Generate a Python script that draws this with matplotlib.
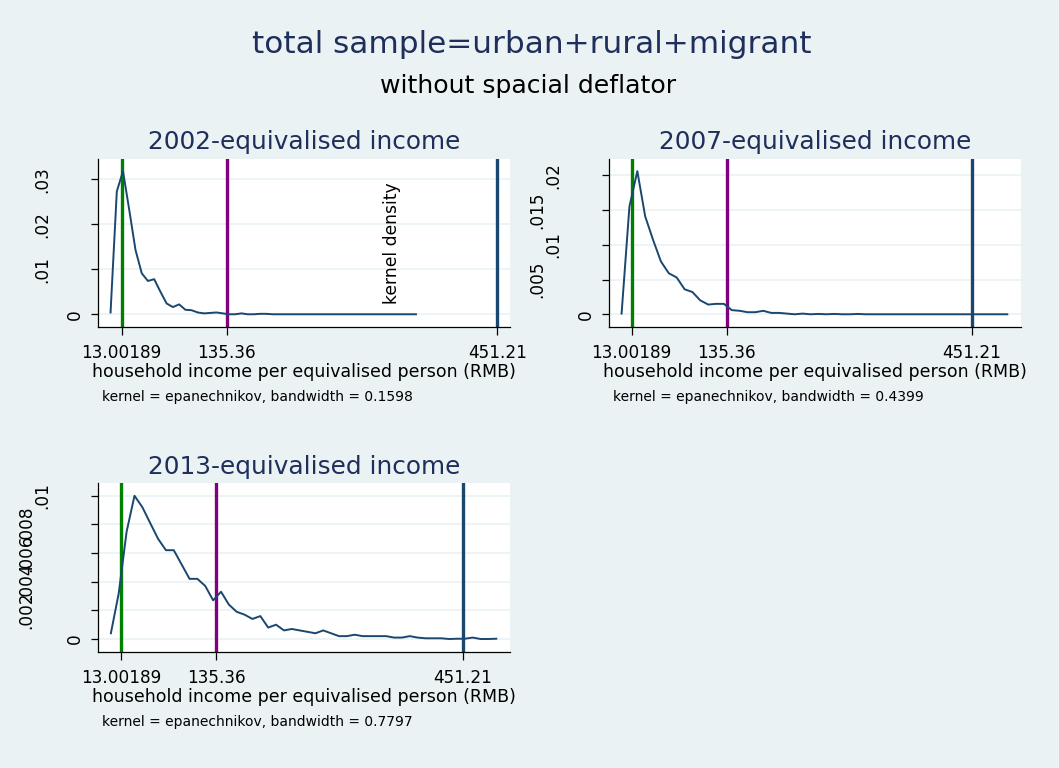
import matplotlib
matplotlib.use("Agg")
import matplotlib.pyplot as plt

plt.rcParams["font.family"] = ["DejaVu Sans"]

BG = "#eaf2f3"
NAVY = "#1a476f"
TITLE_NAVY = "#1f2f5c"

# x axis ticks and the three reference lines
x_ticks = [13.00189, 135.36, 451.21]
x_tick_labels = ["13.00189", "135.36", "451.21"]
ref_lines = [13.00189, 135.36, 451.21]
ref_colors = ["#008000", "#800080", NAVY]

panel_titles = ["2002-equivalised income", "2007-equivalised income", "2013-equivalised income"]
bandwidths = ["0.1598", "0.4399", "0.7797"]

# kernel density estimates (50 grid points each)
x_2002 = [0.0, 7.3, 14.5, 21.8, 29.1, 36.4, 43.6, 50.9, 58.2, 65.4,
          72.7, 80.0, 87.3, 94.5, 101.8, 109.1, 116.3, 123.6, 130.9, 138.2,
          145.4, 152.7, 160.0, 167.2, 174.5, 181.8, 189.1, 196.3, 203.6, 210.9,
          218.1, 225.4, 232.7, 240.0, 247.2, 254.5, 261.8, 269.0, 276.3, 283.6,
          290.9, 298.1, 305.4, 312.7, 319.9, 327.2, 334.5, 341.8, 349.0, 356.3]
dens_2002 = [0.0004, 0.0273, 0.0318, 0.0232, 0.0143, 0.0091, 0.0074, 0.0078, 0.0050, 0.0024,
             0.0016, 0.0022, 0.0010, 0.0009, 0.0004, 0.0002, 0.0003, 0.0004, 0.0002, 0.0000,
             0.0000, 0.0002, 0.0000, 0.0000, 0.0001, 0.0001, 0.0000, 0.0000, 0.0000, 0.0000,
             0.0000, 0.0000, 0.0000, 0.0000, 0.0000, 0.0000, 0.0000, 0.0000, 0.0000, 0.0000,
             0.0000, 0.0000, 0.0000, 0.0000, 0.0000, 0.0000, 0.0000, 0.0000, 0.0000, 0.0000]

x_2007 = [0.0, 10.1, 20.3, 30.4, 40.6, 50.7, 60.9, 71.0, 81.2, 91.3,
          101.4, 111.6, 121.7, 131.9, 142.0, 152.2, 162.3, 172.4, 182.6, 192.7,
          202.9, 213.0, 223.2, 233.3, 243.5, 253.6, 263.7, 273.9, 284.0, 294.2,
          304.3, 314.5, 324.6, 334.7, 344.9, 355.0, 365.2, 375.3, 385.5, 395.6,
          405.8, 415.9, 426.0, 436.2, 446.3, 456.5, 466.6, 476.8, 486.9, 497.0]
dens_2007 = [0.0001, 0.0155, 0.0206, 0.0141, 0.0107, 0.0076, 0.0059, 0.0053, 0.0036, 0.0032,
             0.0020, 0.0014, 0.0015, 0.0015, 0.0006, 0.0005, 0.0003, 0.0003, 0.0005, 0.0002,
             0.0002, 0.0001, 0.0000, 0.0001, 0.0000, 0.00005, 0.0000, 0.00005, 0.0000, 0.0000,
             0.00005, 0.0000, 0.0000, 0.0000, 0.0000, 0.0000, 0.0000, 0.0000, 0.0000, 0.0000,
             0.0000, 0.0000, 0.0000, 0.0000, 0.0000, 0.0000, 0.0000, 0.0000, 0.0000, 0.0000]

x_2013 = [0.0, 10.1, 20.2, 30.3, 40.4, 50.4, 60.5, 70.6, 80.7, 90.8,
          100.9, 111.0, 121.1, 131.2, 141.3, 151.4, 161.4, 171.5, 181.6, 191.7,
          201.8, 211.9, 222.0, 232.1, 242.2, 252.3, 262.4, 272.4, 282.5, 292.6,
          302.7, 312.8, 322.9, 333.0, 343.1, 353.2, 363.3, 373.4, 383.4, 393.5,
          403.6, 413.7, 423.8, 433.9, 444.0, 454.1, 464.2, 474.3, 484.3, 494.4]
dens_2013 = [0.0004, 0.0032, 0.0075, 0.0100, 0.0092, 0.0081, 0.0070, 0.0062, 0.0062, 0.0052,
             0.0042, 0.0042, 0.0037, 0.0027, 0.0033, 0.0024, 0.0019, 0.0017, 0.0014, 0.0016,
             0.0008, 0.0010, 0.0006, 0.0007, 0.0006, 0.0005, 0.0004, 0.0006, 0.0004, 0.0002,
             0.0002, 0.0003, 0.0002, 0.0002, 0.0002, 0.0002, 0.0001, 0.0001, 0.0002, 0.0001,
             0.00005, 0.00005, 0.00005, 0.0000, 0.00002, 0.00002, 0.0001, 0.0000, 0.0000, 0.00002]

y_ticks_2002 = [0, 0.01, 0.02, 0.03]
y_labels_2002 = ["0", ".01", ".02", ".03"]
y_ticks_2007 = [0, 0.005, 0.01, 0.015, 0.02]
y_labels_2007 = ["0", ".005", ".01", ".015", ".02"]
y_ticks_2013 = [0, 0.002, 0.004, 0.006, 0.008, 0.01]
y_labels_2013 = ["0", ".002", ".004", ".006", ".008", ".01"]

W, H = 1059, 768
fig = plt.figure(figsize=(W / 100, H / 100), dpi=100, facecolor=BG)


def box(left, top, right, bottom):
    return [left / W, 1 - bottom / H, (right - left) / W, (bottom - top) / H]


def draw_panel(rect, x, dens, yticks, ylabels, xlim, ylim, title, bw):
    ax = fig.add_axes(rect)
    ax.set_facecolor("white")
    ax.set_axisbelow(True)
    ax.grid(axis="y", color=BG, lw=1.2)
    for v, c in zip(ref_lines, ref_colors):
        ax.axvline(v, color=c, lw=2.4, zorder=2)
    ax.plot(x, dens, color=NAVY, lw=1.4, zorder=3)
    ax.set_xlim(*xlim)
    ax.set_ylim(*ylim)
    for s in ["top", "right"]:
        ax.spines[s].set_visible(False)
    for s in ["left", "bottom"]:
        ax.spines[s].set_linewidth(0.9)
    ax.set_xticks(x_ticks)
    ax.set_xticklabels(x_tick_labels, fontsize=12.2)
    ax.set_yticks(yticks)
    ax.tick_params(axis="y", labelleft=False, length=5.4, width=0.9)
    ax.tick_params(axis="x", length=5.4, width=0.9, pad=7.0)
    # vertical y labels, pushed out by string length (Stata style)
    for v, s in zip(yticks, ylabels):
        ax.annotate(s, xy=(0, v), xycoords=("axes fraction", "data"),
                    xytext=(-(7 + 16 * len(s)) * 0.72, 0), textcoords="offset points",
                    rotation=90, ha="center", va="center", fontsize=12.2)
    ax.annotate("household income per equivalised person (RMB)", xy=(0.5, 0),
                xycoords="axes fraction", xytext=(0, -50 * 0.72), textcoords="offset points",
                ha="center", va="baseline", fontsize=12.5)
    ax.annotate("kernel = epanechnikov, bandwidth = " + bw, xy=(0, 0),
                xycoords="axes fraction", xytext=(4 * 0.72, -74 * 0.72), textcoords="offset points",
                ha="left", va="baseline", fontsize=10)
    ax.annotate(title, xy=(0.5, 1), xycoords="axes fraction",
                xytext=(0, 9.5 * 0.72), textcoords="offset points",
                ha="center", va="baseline", fontsize=17.8, color=TITLE_NAVY)
    return ax


ax1 = draw_panel(box(97.7, 159, 510, 326.7), x_2002, dens_2002, y_ticks_2002, y_labels_2002,
                 (-15.0, 466.0), (-0.00276, 0.0345), panel_titles[0], bandwidths[0])
ax1.text(0.713, 0.5, "kernel density", transform=ax1.transAxes, rotation=90,
         ha="center", va="center", fontsize=12.3)

draw_panel(box(608.7, 159, 1020.7, 327), x_2007, dens_2007, y_ticks_2007, y_labels_2007,
           (-16.6, 514.3), (-0.00183, 0.02235), panel_titles[1], bandwidths[1])

draw_panel(box(97.7, 483.3, 510, 651.7), x_2013, dens_2013, y_ticks_2013, y_labels_2013,
           (-16.9, 512.0), (-0.000886, 0.01087), panel_titles[2], bandwidths[2])

fig.text(532 / W, 1 - 53.3 / H, "total sample=urban+rural+migrant", ha="center",
         va="baseline", fontsize=22.4, color=TITLE_NAVY)
fig.text(528 / W, 1 - 93.3 / H, "without spacial deflator", ha="center",
         va="baseline", fontsize=18.1, color="black")

fig.savefig("out.png", dpi=100, facecolor=fig.get_facecolor())
